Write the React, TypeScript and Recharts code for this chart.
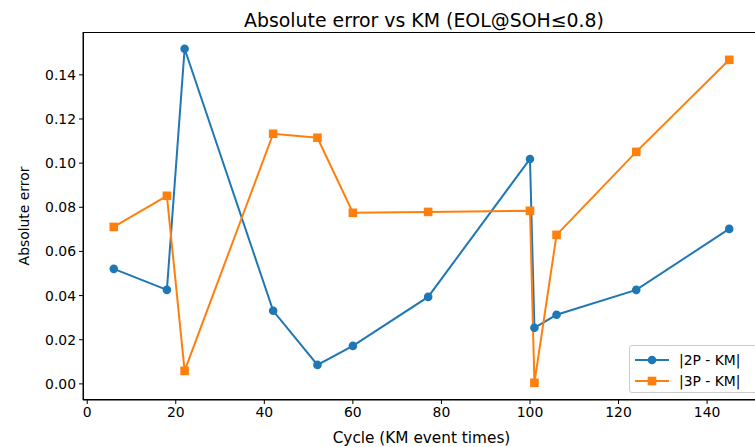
import React from "react";
import {
  Line,
  LineChart,
  XAxis,
  YAxis
} from "recharts";

const cycles = [6, 18, 22, 42, 52, 60, 77, 100, 101, 106, 124, 145];
const err2P = [0.0521, 0.0426, 0.1518, 0.0331, 0.0086, 0.0172, 0.0394, 0.1019, 0.0254, 0.0313, 0.0426, 0.0702];
const err3P = [0.0711, 0.0852, 0.0059, 0.1133, 0.1115, 0.0775, 0.0779, 0.0784, 0.0005, 0.0675, 0.1051, 0.1468];
const xTicks = [0, 20, 40, 60, 80, 100, 120, 140];
const yTicks = [0, 0.02, 0.04, 0.06, 0.08, 0.1, 0.12, 0.14];
const seriesNames = ["|2P - KM|", "|3P - KM|"];

const data = cycles.map((c, i) => ({ cycle: c, e2: err2P[i], e3: err3P[i] }));

const FONT = "'DejaVu Sans', sans-serif";
const BLUE = "#1f77b4";
const ORANGE = "#ff7f0e";

const SquareDot = (props: any) => {
  const { cx, cy, index } = props;
  if (cx == null || cy == null) return <g key={`s-${index}`} />;
  return <rect key={`s-${index}`} x={cx - 4.3} y={cy - 4.3} width={8.6} height={8.6} fill={ORANGE} />;
};

const YLabel = (props: any) => {
  const vb = props.viewBox || {};
  const cy = vb.y + vb.height / 2;
  return (
    <text x={24} y={cy} transform={`rotate(-90 24 ${cy})`} textAnchor="middle" dominantBaseline="central"
      fontSize={13.9} fontFamily={FONT} fill="#000">
      Absolute error
    </text>
  );
};

const XLabel = (props: any) => {
  const vb = props.viewBox || {};
  return (
    <text x={vb.x + vb.width / 2} y={443} textAnchor="middle"
      fontSize={15.3} fontFamily={FONT} fill="#000">
      Cycle (KM event times)
    </text>
  );
};

const LegendBox = () => (
  <div style={{
    position: "absolute", left: 629, top: 345, width: 140, height: 48,
    border: "1px solid #cccccc", borderRadius: 3,
    background: "rgba(255,255,255,0.8)", fontFamily: FONT, fontSize: 13.9, color: "#000",
    boxSizing: "border-box", paddingTop: 3
  }}>
    {seriesNames.map((name, i) => (
      <div key={name} style={{ display: "flex", alignItems: "center", height: 21 }}>
        <svg width={45} height={12} style={{ marginLeft: 4 }}>
          <line x1={1} x2={35} y1={6} y2={6} stroke={i === 0 ? BLUE : ORANGE} strokeWidth={2} />
          {i === 0
            ? <circle cx={18} cy={6} r={4.3} fill={BLUE} />
            : <rect x={13.7} y={1.7} width={8.6} height={8.6} fill={ORANGE} />}
        </svg>
        <span>{name}</span>
      </div>
    ))}
  </div>
);

export default function App() {
  return (
    <div style={{ position: "absolute", left: 0, top: 0, width: 755, height: 447, overflow: "hidden", background: "#fff" }}>
      <svg width={755} height={32} style={{ position: "absolute", left: 0, top: 0 }}>
        <text x={424} y={27} textAnchor="middle" fontSize={18.9} fontFamily={FONT} fill="#000">
          Absolute error vs KM (EOL@SOH≤0.8)
        </text>
      </svg>
      <LineChart width={765} height={447} data={data} margin={{ top: 32, right: 5, bottom: 0, left: 0 }}>
        <XAxis
          dataKey="cycle"
          type="number"
          domain={[-0.95, 151.95]}
          ticks={xTicks}
          allowDataOverflow
          height={47}
          tickSize={4}
          tickMargin={3}
          axisLine={{ stroke: "#000", strokeWidth: 1 }}
          tickLine={{ stroke: "#000" }}
          tick={{ fill: "#000", fontSize: 13.9, fontFamily: FONT }}
          label={<XLabel />}
        />
        <YAxis
          type="number"
          domain={[-0.0073, 0.1594]}
          ticks={yTicks}
          allowDataOverflow
          width={83}
          tickSize={4}
          tickMargin={3}
          tickFormatter={(v: number) => v.toFixed(2)}
          axisLine={{ stroke: "#000", strokeWidth: 1 }}
          tickLine={{ stroke: "#000" }}
          tick={{ fill: "#000", fontSize: 13.9, fontFamily: FONT }}
          label={<YLabel />}
        />
        <Line
          dataKey="e2"
          name={seriesNames[0]}
          stroke={BLUE}
          strokeWidth={2}
          dot={{ r: 4.3, fill: BLUE, stroke: BLUE, strokeWidth: 0 }}
          activeDot={false}
          isAnimationActive={false}
        />
        <Line
          dataKey="e3"
          name={seriesNames[1]}
          stroke={ORANGE}
          strokeWidth={2}
          dot={SquareDot}
          activeDot={false}
          isAnimationActive={false}
        />
      </LineChart>
      <div style={{
        position: "absolute", left: 83, top: 32, width: 677, height: 368,
        border: "1px solid #000", boxSizing: "border-box", pointerEvents: "none"
      }} />
      <LegendBox />
    </div>
  );
}
